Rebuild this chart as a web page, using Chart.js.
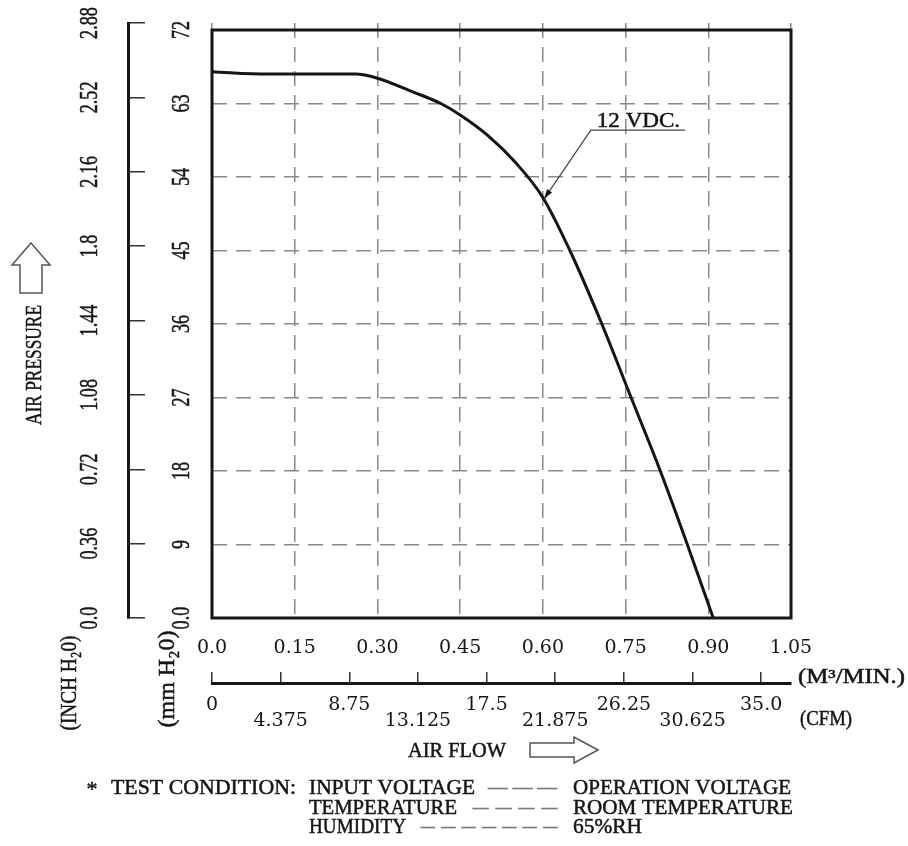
<!DOCTYPE html>
<html>
<head>
<meta charset="utf-8">
<title>Air flow vs air pressure</title>
<script src="https://cdn.jsdelivr.net/npm/chart.js@4.4.1/dist/chart.umd.min.js"></script>
<style>
  html, body { margin: 0; padding: 0; background: #fff; }
  canvas { display: block; }
</style>
</head>
<body>
<canvas id="pqChart" width="908" height="846"></canvas>
<script>
// curve: air flow (m3/min) vs static pressure (mm H2O)
const flow     = [0, 0.10, 0.20, 0.26, 0.30, 0.365, 0.415, 0.45, 0.50, 0.55, 0.60, 0.649, 0.707, 0.760, 0.813, 0.862, 0.909];
const pressure = [66.9, 66.6, 66.6, 66.6, 66.1, 64.4, 63.0, 61.6, 59.1, 55.8, 51.5, 45.0, 36.0, 27.0, 18.0, 9.0, 0.0];

// tick labels
const flowTicks = ['0.0', '0.15', '0.30', '0.45', '0.60', '0.75', '0.90', '1.05'];
const cfmTicks  = ['0', '4.375', '8.75', '13.125', '17.5', '21.875', '26.25', '30.625', '35.0'];
const mmTicks   = ['0.0', '9', '18', '27', '36', '45', '54', '63', '72'];
const inchTicks = ['0.0', '0.36', '0.72', '1.08', '1.44', '1.8', '2.16', '2.52', '2.88'];

// where the "12 VDC." call-out points (flow, mm H2O)
const callout = { tip: [0.602, 51.3], elbow: [0.687, 59.75], end: [0.858, 59.75], text: '12 VDC.' };

const INK = '#151515';
const SERIF = '"Liberation Serif", "DejaVu Serif", serif';

// draw text centred on (x, y), squeezed/stretched to len px if given
function label(ctx, str, x, y, opt) {
    opt = opt || {};
    const size = opt.size || 20;
    ctx.save();
    ctx.font = size + 'px ' + SERIF;
    const w = ctx.measureText(str).width;
    const sx = opt.len ? opt.len / w : (opt.sx || 1);
    ctx.translate(x, y);
    if (opt.rot) ctx.rotate(opt.rot);
    ctx.scale(sx, 1);
    ctx.textAlign = opt.align || 'center';
    ctx.textBaseline = 'alphabetic';
    ctx.fillStyle = opt.color || INK;
    ctx.strokeStyle = opt.color || INK;
    ctx.lineWidth = 0.5;
    ctx.fillText(str, 0, size * 0.33);
    ctx.strokeText(str, 0, size * 0.33);
    ctx.restore();
}

// text between x0 and x1
function span(ctx, str, x0, x1, y, size, color) {
    label(ctx, str, (x0 + x1) / 2, y, { len: x1 - x0, size: size, color: color });
}

const decor = {
    id: 'decor',
    afterDraw(chart) {
        const ctx = chart.ctx;
        const x = chart.scales.x, y = chart.scales.y, yIn = chart.scales.yIn;
        const L = x.getPixelForValue(0), R = x.getPixelForValue(1.05);
        const T = y.getPixelForValue(72), B = y.getPixelForValue(0);

        // plot frame
        ctx.save();
        ctx.strokeStyle = INK;
        ctx.lineWidth = 3;
        ctx.strokeRect(L, T, R - L, B - T);
        ctx.restore();

        // vertical tick labels
        const up = -Math.PI / 2;
        y.ticks.forEach((t, i) => label(ctx, mmTicks[i], 180, y.getPixelForValue(t.value), { size: 26, sx: 0.7, rot: up }));
        yIn.ticks.forEach((t, i) => label(ctx, inchTicks[i], 88, yIn.getPixelForValue(t.value), { size: 26, sx: 0.7, rot: up }));

        // axis titles
        label(ctx, 'AIR PRESSURE', 33, 365, { size: 24, len: 120, rot: up });
        label(ctx, '(INCH H\u20820)', 68, 683, { size: 24, len: 95, rot: up });
        label(ctx, '(mm H\u20820)', 166, 679, { size: 24, len: 97, rot: up });
        span(ctx, '(M\u00B3/MIN.)', 798, 905, 676, 20);
        span(ctx, '(CFM)', 800, 852, 718, 20);
        span(ctx, 'AIR FLOW', 408, 506, 750, 22);

        // hollow arrows
        ctx.save();
        ctx.strokeStyle = '#555';
        ctx.lineWidth = 1.5;
        ctx.fillStyle = '#fff';
        ctx.beginPath();
        ctx.moveTo(31, 243); ctx.lineTo(50, 265); ctx.lineTo(42, 265); ctx.lineTo(42, 293);
        ctx.lineTo(20, 293); ctx.lineTo(20, 265); ctx.lineTo(12, 265); ctx.closePath();
        ctx.fill(); ctx.stroke();
        ctx.beginPath();
        ctx.moveTo(598, 750); ctx.lineTo(574, 737); ctx.lineTo(574, 743); ctx.lineTo(530, 743);
        ctx.lineTo(530, 757); ctx.lineTo(574, 757); ctx.lineTo(574, 763); ctx.closePath();
        ctx.fill(); ctx.stroke();
        ctx.restore();

        // test conditions
        label(ctx, '*', 92, 789, { size: 22 });
        span(ctx, 'TEST CONDITION:', 111, 296, 787, 22);
        span(ctx, 'INPUT VOLTAGE', 309, 475, 787, 22);
        span(ctx, '\u2014 \u2014 \u2014', 488, 557, 787, 20, '#777');
        span(ctx, 'OPERATION VOLTAGE', 573, 791, 787, 22);
        span(ctx, 'TEMPERATURE', 309, 457, 807, 22);
        span(ctx, '\u2013 \u2013 \u2013 \u2013', 473, 557, 807, 20, '#777');
        span(ctx, 'ROOM TEMPERATURE', 573, 793, 807, 22);
        span(ctx, 'HUMIDITY', 309, 406, 826, 22);
        span(ctx, '\u2013 \u2013 \u2013 \u2013 \u2013 \u2013 \u2013', 421, 557, 826, 20, '#777');
        span(ctx, '65%RH', 573, 642, 826, 22);

        // 12 VDC call-out
        const px = p => [x.getPixelForValue(p[0]), y.getPixelForValue(p[1])];
        const tip = px(callout.tip), elb = px(callout.elbow), end = px(callout.end);
        ctx.save();
        ctx.strokeStyle = '#444';
        ctx.lineWidth = 1.2;
        ctx.beginPath();
        ctx.moveTo(tip[0], tip[1]); ctx.lineTo(elb[0], elb[1]); ctx.lineTo(end[0], end[1]);
        ctx.stroke();
        const ang = Math.atan2(tip[1] - elb[1], tip[0] - elb[0]);
        ctx.translate(tip[0], tip[1]);
        ctx.rotate(ang);
        ctx.fillStyle = INK;
        ctx.beginPath();
        ctx.moveTo(0, 0); ctx.lineTo(-10, -3); ctx.lineTo(-10, 3); ctx.closePath();
        ctx.fill();
        ctx.restore();
        span(ctx, callout.text, elb[0] + 6, end[0] - 5, elb[1] - 10, 21);
    }
};

document.addEventListener('DOMContentLoaded', function() {

    const points = flow.map((f, i) => ({ x: f, y: pressure[i] }));
    const dash = [15, 9];

    new Chart(document.getElementById('pqChart'), {
        type: 'scatter',
        data: {
            datasets: [{
                label: '12 VDC.',
                data: points,
                showLine: true,
                borderColor: INK,
                borderWidth: 3,
                pointRadius: 0,
                cubicInterpolationMode: 'monotone',
                xAxisID: 'x',
                yAxisID: 'y'
            }]
        },
        options: {
            responsive: false,
            animation: false,
            layout: { padding: { top: 23, right: 117, bottom: 93, left: 0 } },
            plugins: { legend: { display: false }, tooltip: { enabled: false } },
            scales: {
                x: {
                    type: 'linear',
                    position: 'bottom',
                    min: 0,
                    max: 1.05,
                    afterBuildTicks: s => { s.ticks = flowTicks.map(t => ({ value: parseFloat(t) })); },
                    afterFit: s => { s.height = 65; },
                    ticks: {
                        callback: (v, i) => flowTicks[i],
                        font: { family: 'DejaVu Serif', size: 19 },
                        color: INK,
                        padding: 19,
                        autoSkip: false,
                        maxRotation: 0
                    },
                    grid: { color: '#8a8a8a', lineWidth: 1.5, drawTicks: false },
                    border: { display: false, dash: dash }
                },
                xc: {
                    type: 'linear',
                    position: 'bottom',
                    min: 0,
                    max: 36.9,
                    afterBuildTicks: s => { s.ticks = cfmTicks.map(t => ({ value: parseFloat(t) })); },
                    afterFit: s => { s.height = 70; },
                    ticks: {
                        callback: (v, i) => (i % 2 ? ['', cfmTicks[i]] : [cfmTicks[i], '']),
                        font: { family: 'DejaVu Serif', size: 19, lineHeight: 0.85 },
                        color: INK,
                        padding: 25,
                        autoSkip: false,
                        maxRotation: 0
                    },
                    grid: { drawOnChartArea: false, drawTicks: true, tickLength: -11, color: '#333', lineWidth: 1.5 },
                    border: { display: true, color: INK, width: 3 }
                },
                y: {
                    type: 'linear',
                    position: 'left',
                    weight: 0,
                    min: 0,
                    max: 72 * 595 / 588,
                    afterBuildTicks: s => { s.ticks = mmTicks.map(t => ({ value: parseFloat(t) })); },
                    afterFit: s => { s.width = 84; },
                    ticks: { display: false },
                    grid: { color: '#8a8a8a', lineWidth: 1.5, drawTicks: false },
                    border: { display: false, dash: dash }
                },
                yIn: {
                    type: 'linear',
                    position: 'left',
                    weight: 1,
                    min: 0,
                    max: 2.88,
                    afterBuildTicks: s => { s.ticks = inchTicks.map(t => ({ value: parseFloat(t) })); },
                    afterFit: s => { s.width = 128; },
                    ticks: { display: false },
                    grid: { drawOnChartArea: false, drawTicks: true, tickLength: -17, color: '#333', lineWidth: 1.5 },
                    border: { display: true, color: INK, width: 3 }
                }
            }
        },
        plugins: [decor]
    });
});
</script>
</body>
</html>
